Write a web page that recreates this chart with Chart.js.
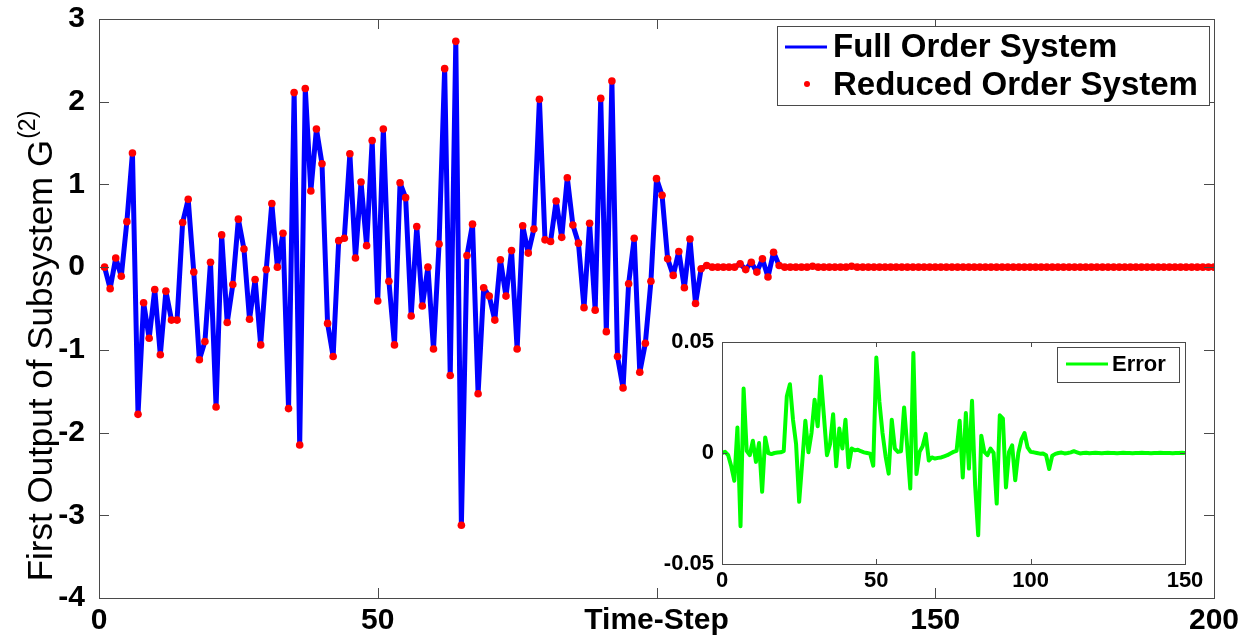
<!DOCTYPE html>
<html><head><meta charset="utf-8">
<script src="https://cdn.jsdelivr.net/npm/chart.js@4.4.0/dist/chart.umd.min.js"></script>
<style>
html,body{margin:0;padding:0;background:#fff;}
#wrap{position:relative;width:1253px;height:639px;overflow:hidden;}
#main{position:absolute;left:0;top:0;}
#inset{position:absolute;left:640px;top:330px;}
</style></head><body>
<div id="wrap"><canvas id="main" width="1253" height="639"></canvas><canvas id="inset" width="600" height="270"></canvas></div>
<script>
// ---- Data ----
// Main plot: output at time steps 1..200 (full and reduced order coincide visually)
const outputValues = [
  0.00,-0.26,0.11,-0.11,0.55,1.38,-1.78,-0.43,-0.86,-0.27,
  -1.06,-0.29,-0.64,-0.64,0.54,0.82,-0.06,-1.12,-0.90,0.06,
  -1.69,0.39,-0.67,-0.21,0.58,0.22,-0.63,-0.15,-0.94,-0.03,
  0.77,0.00,0.41,-1.71,2.11,-2.15,2.16,0.92,1.67,1.25,
  -0.68,-1.08,0.32,0.35,1.37,0.11,1.03,0.26,1.53,-0.41,
  1.67,-0.17,-0.94,1.02,0.84,-0.59,0.49,-0.47,0.00,-0.99,
  0.28,2.40,-1.31,2.73,-3.12,0.14,0.52,-1.53,-0.25,-0.35,
  -0.64,0.09,-0.35,0.20,-0.99,0.50,0.17,0.46,2.03,0.33,
  0.31,0.80,0.36,1.08,0.51,0.29,-0.49,0.53,-0.52,2.04,
  -0.78,2.25,-1.08,-1.46,-0.20,0.35,-1.27,-0.92,-0.17,1.07,
  0.87,0.10,-0.10,0.19,-0.25,0.34,-0.44,-0.02,0.02,0.00,
  0.00,0.00,0.00,0.00,0.04,-0.03,0.06,-0.06,0.10,-0.12,
  0.18,0.02,0.00,0.00,0.00,0.00,0.00,0.01,0.00,0.00,
  0.00,0.00,0.00,0.00,0.01,0.00,0.00,0.00,0.00,0.00,
  0.00,0.00,0.00,0.00,0.00,0.00,0.00,0.00,0.00,0.00,
  0.00,0.00,0.00,0.00,0.00,0.00,0.00,0.00,0.00,0.00,
  0.00,0.00,0.00,0.00,0.00,0.00,0.00,0.00,0.00,0.00,
  0.00,0.00,0.00,0.00,0.00,0.00,0.00,0.00,0.00,0.00,
  0.00,0.00,0.00,0.00,0.00,0.00,0.00,0.00,0.00,0.00,
  0.00,0.00,0.00,0.00,0.00,0.00,0.00,0.00,0.00,0.00
];
const firstStep = 1;
// Inset: error at steps 0..150
const errorValues = [
  0,0.0005,-0.001,-0.006,-0.0125,0.0115,-0.033,0.029,0.001,-0.001,
  0.0055,-0.004,0.0045,-0.0175,0.007,0,-0.0005,0,0.0002,0.0003,
  0.0008,0.0256,0.031,0.015,0.004,-0.022,-0.004,0.0145,0.0003,0.009,
  0.024,0.012,0.0345,0.017,-0.001,0.004,0.0175,-0.006,0.011,0.002,
  0.015,-0.0064,0.002,0.0012,0.0015,0.0008,0.0003,0,-0.0003,-0.0057,
  0.043,0.023,0.009,-0.0015,-0.0093,0.015,0.002,0.0005,0.0008,0.0205,
  0.003,-0.016,0.045,-0.0095,0.0005,0.003,0.0086,-0.0034,-0.002,-0.0025,
  -0.0022,-0.002,-0.0015,-0.001,-0.0002,0.0005,0.001,0.0145,-0.011,0.018,
  -0.007,0.0235,-0.0145,-0.037,0.0078,0.0005,-0.001,0.002,0,-0.0228,
  0.017,0.0155,-0.0155,0.0005,0.0035,-0.0123,0,0.006,0.009,0.0025,
  0.0005,0.0003,0,-0.0003,-0.0002,-0.001,-0.0072,-0.0012,-0.0004,0,
  0.0002,-0.0002,0,0.0003,0.0008,0.0003,-0.0002,0,0.0001,-0.0001,
  0,0.0001,0,-0.0001,0,0.0001,0,0,-0.0001,0,
  0.0001,0,0,-0.0001,0,0,0.0001,0,0,-0.0001,
  0,0,0.0001,0,0,0,-0.0001,0,0,0.0001,
  0
];
const mainXTicks = [0, 50, 100, 150, 200];
const mainYTicks = [-4, -3, -2, -1, 0, 1, 2, 3];
const insetXTicks = [0, 50, 100, 150];
const insetYTicks = [-0.05, 0, 0.05];
const seriesLabels = ['Full Order System', 'Reduced Order System'];
const errorLabel = 'Error';
const xAxisLabel = 'Time-Step';
const yAxisLabel = 'First Output of Subsystem G';
const yAxisLabelSup = '(2)';

// ---- helpers ----
const FONT = "'Liberation Sans', Arial, Helvetica, sans-serif";
const AXIS_COLOR = '#4a4a4a';

function boxAndTicks(len) {
  return {
    id: 'boxTicks',
    afterDatasetsDraw(chart) {
      const {ctx, chartArea: a, scales: {x, y}} = chart;
      ctx.save();
      ctx.strokeStyle = AXIS_COLOR;
      ctx.lineWidth = 1;
      ctx.beginPath();
      x.ticks.forEach(t => {
        const px = Math.round(x.getPixelForValue(t.value)) + 0.5;
        ctx.moveTo(px, a.bottom); ctx.lineTo(px, a.bottom - len);
        ctx.moveTo(px, a.top); ctx.lineTo(px, a.top + len);
      });
      y.ticks.forEach(t => {
        const py = Math.round(y.getPixelForValue(t.value)) + 0.5;
        ctx.moveTo(a.left, py); ctx.lineTo(a.left + len, py);
        ctx.moveTo(a.right, py); ctx.lineTo(a.right - len, py);
      });
      ctx.stroke();
      ctx.strokeRect(Math.round(a.left) + 0.5, Math.round(a.top) + 0.5,
                     Math.round(a.right - a.left), Math.round(a.bottom - a.top));
      ctx.restore();
    }
  };
}

const mainLegend = {
  id: 'mainLegend',
  afterDraw(chart) {
    const ctx = chart.ctx;
    ctx.save();
    const bx = 777, by = 26, bw = 432, bh = 79;
    ctx.fillStyle = '#fff';
    ctx.fillRect(bx, by, bw, bh);
    ctx.strokeStyle = AXIS_COLOR; ctx.lineWidth = 1;
    ctx.strokeRect(bx + 0.5, by + 0.5, bw, bh);
    // entry 1: line
    ctx.strokeStyle = chart.data.datasets[1].borderColor;
    ctx.lineWidth = 3;
    ctx.beginPath(); ctx.moveTo(785, 47); ctx.lineTo(827, 47); ctx.stroke();
    // entry 2: dot
    ctx.fillStyle = chart.data.datasets[0].pointBackgroundColor;
    ctx.beginPath(); ctx.arc(807, 84, 3, 0, Math.PI * 2); ctx.fill();
    ctx.fillStyle = '#000';
    ctx.font = "bold 33px " + FONT;
    ctx.textBaseline = 'middle';
    ctx.textAlign = 'left';
    ctx.fillText(chart.data.datasets[1].label, 833, 48);
    ctx.fillText(chart.data.datasets[0].label, 833, 86);
    ctx.restore();
  }
};

const yTitle = {
  id: 'yTitle',
  afterDraw(chart) {
    const ctx = chart.ctx;
    ctx.save();
    const mainFont = "35px " + FONT, supFont = "23px " + FONT;
    ctx.font = mainFont; const w1 = ctx.measureText(yAxisLabel).width;
    ctx.font = supFont; const w2 = ctx.measureText(yAxisLabelSup).width;
    const total = w1 + w2 + 1;
    const cy = 346, cx = 52;
    ctx.translate(cx, cy);
    ctx.rotate(-Math.PI / 2);
    ctx.fillStyle = '#000';
    ctx.textBaseline = 'alphabetic';
    ctx.textAlign = 'left';
    ctx.font = mainFont;
    ctx.fillText(yAxisLabel, -total / 2, 0);
    ctx.font = supFont;
    ctx.fillText(yAxisLabelSup, -total / 2 + w1 + 1, -17);
    ctx.restore();
  }
};

const insetBg = {
  id: 'insetBg',
  beforeDatasetsDraw(chart) {
    const {ctx, chartArea: a} = chart;
    ctx.save(); ctx.fillStyle = '#fff';
    ctx.fillRect(a.left, a.top, a.right - a.left, a.bottom - a.top);
    ctx.restore();
  }
};

const insetLegend = {
  id: 'insetLegend',
  afterDraw(chart) {
    const ctx = chart.ctx;
    const ox = 640, oy = 330;
    ctx.save();
    const bx = 1057 - ox, by = 347 - oy, bw = 122, bh = 35;
    ctx.fillStyle = '#fff'; ctx.fillRect(bx, by, bw, bh);
    ctx.strokeStyle = AXIS_COLOR; ctx.lineWidth = 1;
    ctx.strokeRect(bx + 0.5, by + 0.5, bw, bh);
    ctx.strokeStyle = chart.data.datasets[0].borderColor; ctx.lineWidth = 3;
    ctx.beginPath(); ctx.moveTo(1066 - ox, 364 - oy); ctx.lineTo(1108 - ox, 364 - oy); ctx.stroke();
    ctx.fillStyle = '#000'; ctx.font = "bold 22px " + FONT;
    ctx.textBaseline = 'middle'; ctx.textAlign = 'left';
    ctx.fillText(chart.data.datasets[0].label, 1112 - ox, 365 - oy);
    ctx.restore();
  }
};

// ---- Main chart ----
const mainPoints = outputValues.map((v, i) => ({x: firstStep + i, y: v}));
new Chart(document.getElementById('main'), {
  type: 'line',
  data: {
    datasets: [
      {label: seriesLabels[1], data: mainPoints, showLine: false, order: 0,
       pointRadius: 3.8, pointBackgroundColor: '#ff0000', pointBorderWidth: 0,
       borderColor: '#ff0000'},
      {label: seriesLabels[0], data: mainPoints, order: 1, borderColor: '#0000ff',
       borderWidth: 5, pointRadius: 0, tension: 0, borderJoinStyle: 'round', borderCapStyle: 'round'}
    ]
  },
  options: {
    responsive: false, animation: false, devicePixelRatio: 1,
    layout: {padding: {top: 19, right: 39, left: 0, bottom: 0}},
    plugins: {legend: {display: false}, tooltip: {enabled: false}},
    scales: {
      x: {
        type: 'linear', min: 0, max: 200,
        afterBuildTicks: s => { s.ticks = mainXTicks.map(v => ({value: v})); },
        afterFit: s => { s.height = 41; },
        grid: {display: false, drawTicks: false},
        border: {display: false},
        ticks: {
          autoSkip: false, maxRotation: 0, padding: 5, color: '#000',
          font: {family: FONT, size: 30, weight: 'bold'},
          callback: v => (v === 100 ? xAxisLabel : String(v))
        }
      },
      y: {
        min: -4, max: 3,
        afterBuildTicks: s => { s.ticks = mainYTicks.map(v => ({value: v})); },
        afterFit: s => { s.width = 99; },
        grid: {display: false, drawTicks: false},
        border: {display: false},
        ticks: {padding: 14, color: '#000', font: {family: FONT, size: 30, weight: 'bold', lineHeight: 0.2}}
      }
    }
  },
  plugins: [boxAndTicks(10), yTitle, mainLegend]
});

// ---- Inset chart ----
const errorPoints = errorValues.map((v, i) => ({x: i, y: v}));
new Chart(document.getElementById('inset'), {
  type: 'line',
  data: {
    datasets: [{label: errorLabel, data: errorPoints, borderColor: '#00ff00',
                borderWidth: 4, pointRadius: 0, tension: 0, borderJoinStyle: 'round'}]
  },
  options: {
    responsive: false, animation: false, devicePixelRatio: 1,
    layout: {padding: {top: 12, right: 55, left: 0, bottom: 0}},
    plugins: {legend: {display: false}, tooltip: {enabled: false}},
    scales: {
      x: {
        type: 'linear', min: 0, max: 150,
        afterBuildTicks: s => { s.ticks = insetXTicks.map(v => ({value: v})); },
        afterFit: s => { s.height = 36; },
        grid: {display: false, drawTicks: false},
        border: {display: false},
        ticks: {autoSkip: false, maxRotation: 0, padding: 4, color: '#000',
                font: {family: FONT, size: 22, weight: 'bold'}}
      },
      y: {
        min: -0.05, max: 0.05,
        afterBuildTicks: s => { s.ticks = insetYTicks.map(v => ({value: v})); },
        afterFit: s => { s.width = 82; },
        grid: {display: false, drawTicks: false},
        border: {display: false},
        ticks: {padding: 8, color: '#000', font: {family: FONT, size: 22, weight: 'bold', lineHeight: 0.2},
                callback: v => (Math.abs(v) < 1e-9 ? '0' : String(v))}
      }
    }
  },
  plugins: [insetBg, boxAndTicks(5), insetLegend]
});
</script>
</body></html>
